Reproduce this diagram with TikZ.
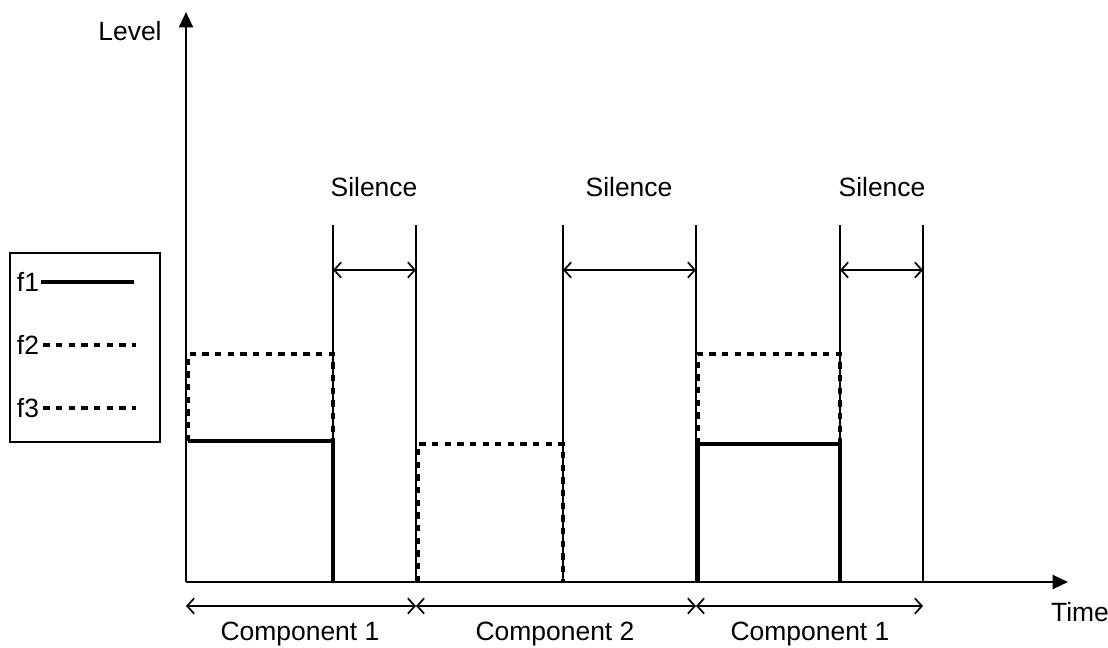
\documentclass[tikz,border=0pt]{standalone}
\usepackage{fontspec}
\setmainfont{Liberation Sans}
\usetikzlibrary{arrows.meta}

\begin{document}
\begin{tikzpicture}[x=0.025cm,y=-0.025cm,
        axis/.style={line width=1.7pt,-{Triangle[length=11pt,width=10pt]}},
        wall/.style={line width=1.6pt},
        solidlevel/.style={line width=2.5pt},
        dashlevel/.style={line width=2.5pt,dash pattern=on 4.5pt off 4.5pt},
        span/.style={line width=1.2pt,{Straight Barb[length=5pt,width=11pt]}-{Straight Barb[length=5pt,width=11pt]}},
        txt/.style={font=\fontsize{18.8}{22}\selectfont,inner sep=0pt}]
        \useasboundingbox (0,0) rectangle (1108,648);

        % axes
        \coordinate (o) at (186,582);
        \coordinate (ytop) at (186,12);
        \coordinate (xend) at (1068,582);
        \draw[axis] (o) -- (ytop);
        \draw[axis] (o) -- (xend);
        \node[txt] (level) at (130,31) {Level};
        \node[txt] (time) at (1080,612) {Time};

        % walls
        \coordinate (a) at (333,225);  \coordinate (a0) at (333,582);
        \coordinate (b) at (416,225);  \coordinate (b0) at (416,582);
        \coordinate (c) at (563,225);  \coordinate (c0) at (563,582);
        \coordinate (d) at (696,225);  \coordinate (d0) at (696,582);
        \coordinate (e) at (840,225);  \coordinate (e0) at (840,582);
        \coordinate (f) at (923,225);  \coordinate (f0) at (923,582);
        \draw[wall] (a) -- (a0);
        \draw[wall] (b) -- (b0);
        \draw[wall] (c) -- (c0);
        \draw[wall] (d) -- (d0);
        \draw[wall] (e) -- (e0);
        \draw[wall] (f) -- (f0);

        % silences
        \draw[span] (333,270) coordinate (s1) -- (416,270) coordinate (s2);
        \draw[span] (563,270) coordinate (s3) -- (696,270) coordinate (s4);
        \draw[span] (840,270) coordinate (s5) -- (923,270) coordinate (s6);
        \node[txt] (sil1) at (374,187) {Silence};
        \node[txt] (sil2) at (629,187) {Silence};
        \node[txt] (sil3) at (882,187) {Silence};

        % component 1
        \coordinate (p1) at (188,354);  \coordinate (q1) at (333,354);
        \coordinate (p2) at (188,441);  \coordinate (q2) at (333,441);
        \draw[dashlevel] (p2) -- (p1) -- (q1) -- (q2);
        \draw[solidlevel] (p2) -- (q2) -- (a0);

        % component 2
        \coordinate (r1) at (418,444);  \coordinate (t1) at (563,444);
        \coordinate (r0) at (418,582);  \coordinate (t0) at (563,582);
        \draw[dashlevel] (r0) -- (r1) -- (t1) -- (t0);

        % component 1 again
        \coordinate (u1) at (698,354);  \coordinate (v1) at (840,354);
        \coordinate (u2) at (698,444);  \coordinate (v2) at (840,444);
        \coordinate (u0) at (698,582);  \coordinate (v0) at (840,582);
        \draw[dashlevel] (u2) -- (u1) -- (v1) -- (v2);
        \draw[solidlevel] (u0) -- (u2) -- (v2) -- (v0);

        % components
        \coordinate (k0) at (186,606);
        \coordinate (k1) at (416,606);
        \coordinate (k2) at (696,606);
        \coordinate (k3) at (923,606);
        \draw[span] (k0) -- (k1);
        \draw[span] (k1) -- (k2);
        \draw[span] (k2) -- (k3);
        \node[txt] (comp1) at (300,634) {Component 1};
        \node[txt] (comp2) at (555,634) {Component 2};
        \node[txt] (comp3) at (810,634) {Component 1};

        % legend
        \draw[line width=1.6pt] (10,253) rectangle (160,442);
        \node[txt] (f1) at (28,282) {f1};
        \node[txt] (f2) at (28,345) {f2};
        \node[txt] (f3) at (28,408) {f3};
        \coordinate (g1) at (134,282);
        \coordinate (g2) at (136,345);
        \coordinate (g3) at (136,408);
        \draw[solidlevel] (f1.east) ++(2,0) -- (g1);
        \draw[dashlevel] (f2.east) ++(4,0) -- (g2);
        \draw[dashlevel] (f3.east) ++(4,0) -- (g3);
\end{tikzpicture}
\end{document}
